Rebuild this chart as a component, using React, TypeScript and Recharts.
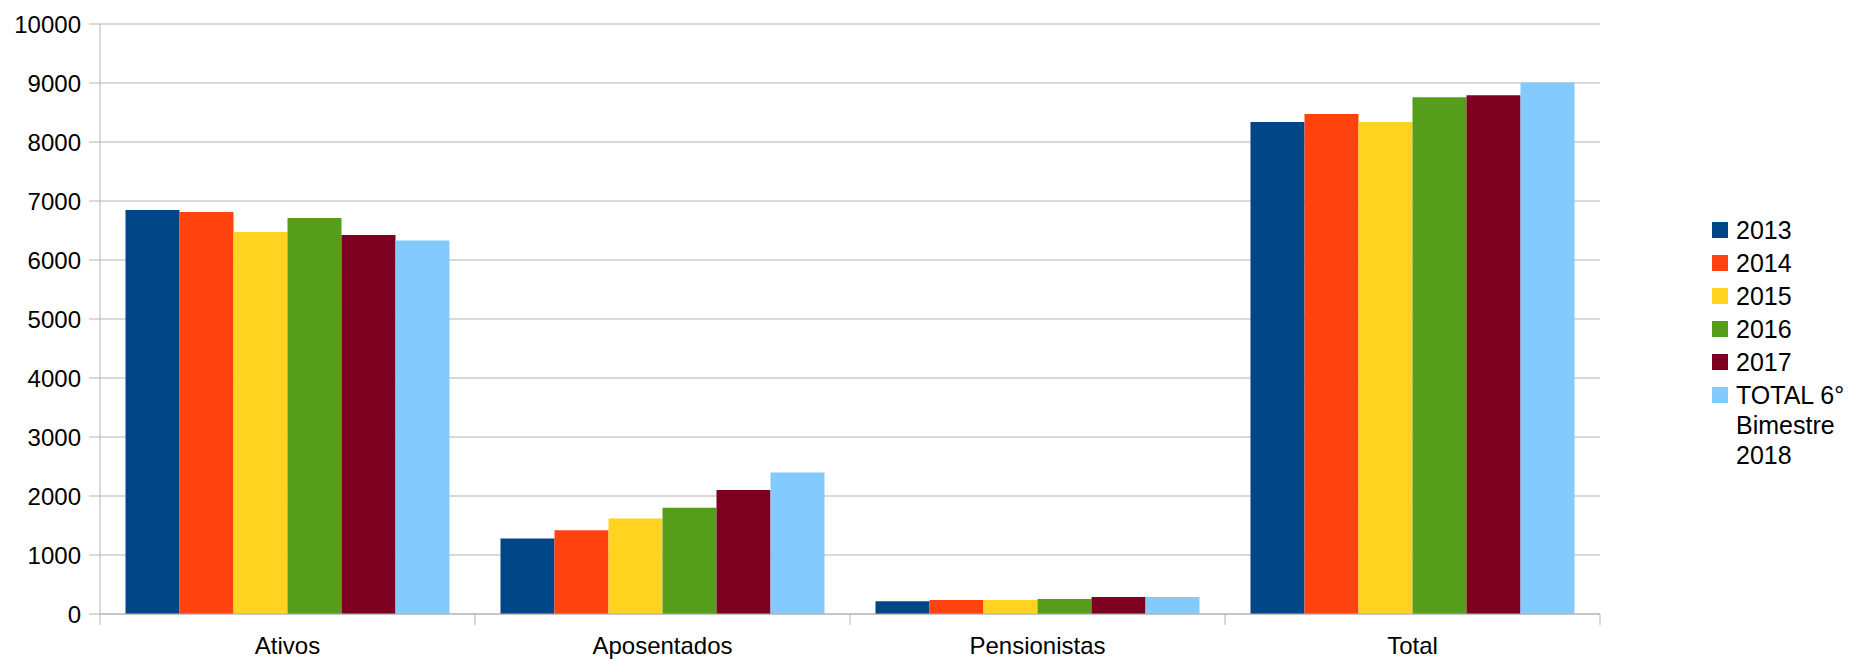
import { BarChart, Bar, XAxis, YAxis, CartesianGrid } from "recharts";

const categories = ["Ativos", "Aposentados", "Pensionistas", "Total"];
const seriesNames = ["2013", "2014", "2015", "2016", "2017", "TOTAL 6° Bimestre 2018"];
const seriesColors = ["#004586", "#ff420e", "#ffd320", "#579d1c", "#7e0021", "#83caff"];

const v2013 = [6847, 1280, 215, 8339];
const v2014 = [6814, 1420, 237, 8475];
const v2015 = [6475, 1620, 237, 8339];
const v2016 = [6712, 1800, 254, 8757];
const v2017 = [6424, 2100, 288, 8791];
const v2018 = [6330, 2400, 288, 9010];

const yTicks = [0, 1000, 2000, 3000, 4000, 5000, 6000, 7000, 8000, 9000, 10000];

const allValues = [v2013, v2014, v2015, v2016, v2017, v2018];

const data = categories.map((name, i) => {
  const row: Record<string, string | number> = { name };
  seriesNames.forEach((s, j) => {
    row[s] = allValues[j][i];
  });
  return row;
});

const FONT = "'Liberation Sans', Arial, sans-serif";
const GRID = "#b3b3b3";
const LABEL_GAP = 23;

// category label plus the boundary tick marks LibreOffice draws between groups
const CategoryTick = (props: any) => {
  const { x, y, payload } = props;
  const half = payload.offset ?? 0;
  const axisY = y - LABEL_GAP;
  const isLast = payload.index === categories.length - 1;
  return (
    <g>
      <line x1={x - half} x2={x - half} y1={axisY} y2={axisY + 11} stroke={GRID} />
      {isLast && (
        <line x1={x + half} x2={x + half} y1={axisY} y2={axisY + 11} stroke={GRID} />
      )}
      <text
        x={x}
        y={y}
        dy="0.71em"
        textAnchor="middle"
        fontSize={24}
        fontFamily={FONT}
        fill="#000"
      >
        {payload.value}
      </text>
    </g>
  );
};

function LegendBox() {
  return (
    <div
      style={{
        position: "absolute",
        left: 1712,
        top: 215,
        fontFamily: FONT,
        fontSize: 25,
        color: "#000",
      }}
    >
      {seriesNames.map((s, i) => (
        <div key={s} style={{ display: "flex", alignItems: "flex-start", marginBottom: 3 }}>
          <span
            style={{
              display: "inline-block",
              width: 16,
              height: 16,
              marginTop: 7,
              background: seriesColors[i],
              flexShrink: 0,
            }}
          />
          <span style={{ marginLeft: 8, lineHeight: "30px", width: 118 }}>{s}</span>
        </div>
      ))}
    </div>
  );
}

export default function App() {
  return (
    <div style={{ position: "absolute", left: 0, top: 0, width: 1851, height: 660, background: "#fff" }}>
      <BarChart
        width={1851}
        height={660}
        data={data}
        margin={{ top: 24, right: 251, bottom: 0, left: 0 }}
        barCategoryGap="6.8%"
        barGap={0}
      >
        <CartesianGrid stroke={GRID} vertical={false} />
        <XAxis
          dataKey="name"
          height={46}
          tickLine={false}
          tickSize={0}
          tickMargin={LABEL_GAP}
          axisLine={{ stroke: GRID }}
          tick={<CategoryTick />}
          interval={0}
        />
        <YAxis
          width={100}
          domain={[0, 10000]}
          ticks={yTicks}
          interval={0}
          tickSize={11}
          tickMargin={8}
          tickLine={{ stroke: GRID }}
          axisLine={{ stroke: GRID }}
          tick={{ fontSize: 24, fill: "#000", fontFamily: FONT }}
        />
        <YAxis
          yAxisId="right"
          orientation="right"
          width={0}
          domain={[0, 10000]}
          tick={false}
          tickLine={false}
          axisLine={{ stroke: GRID }}
        />
        {seriesNames.map((s, i) => (
          <Bar
            key={s}
            dataKey={s}
            fill={seriesColors[i]}
            isAnimationActive={false}
          />
        ))}
      </BarChart>
      <LegendBox />
    </div>
  );
}
